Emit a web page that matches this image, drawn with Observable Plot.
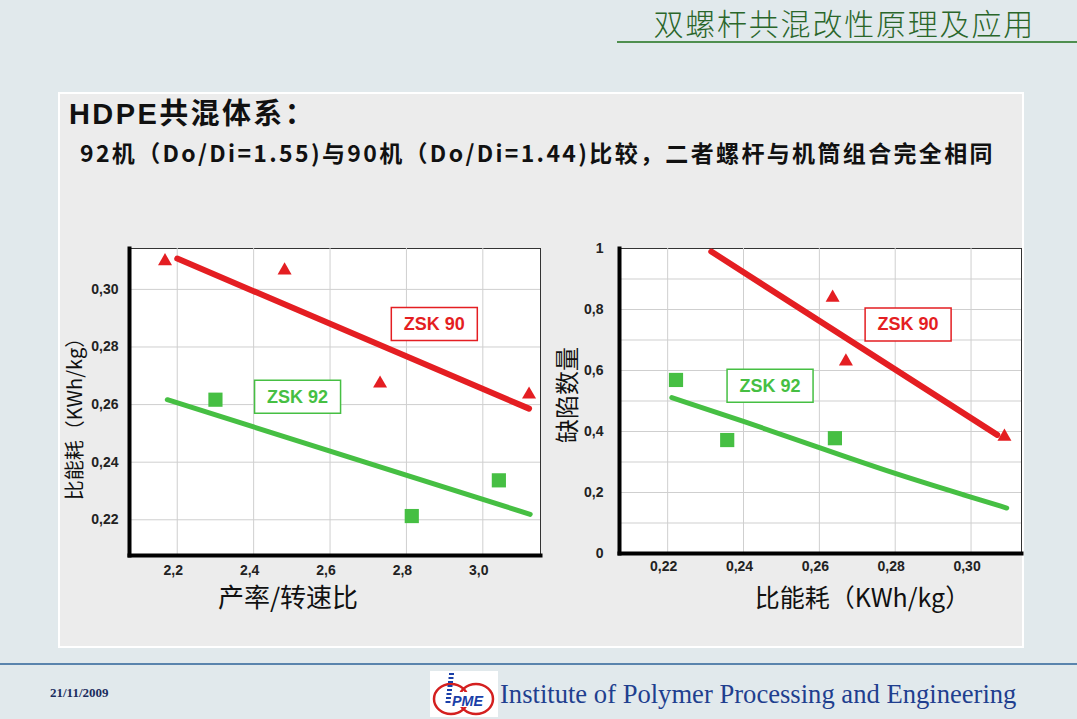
<!DOCTYPE html>
<html>
<head>
<meta charset="utf-8">
<script src="https://cdn.jsdelivr.net/npm/d3@7"></script>
<script src="https://cdn.jsdelivr.net/npm/@observablehq/plot@0.6"></script>
<style>
  html, body { margin: 0; padding: 0; }
  body { width: 1077px; height: 719px; background: #e1e9ec; position: relative; overflow: hidden;
         font-family: "Noto Sans CJK SC", "Liberation Sans", sans-serif; }
  .abs { position: absolute; }
  #slideTitle { right: 42px; top: 6px; font-size: 30px; line-height: 32px; color: #2a662a; font-weight: 300; letter-spacing: 1.8px; white-space: nowrap; }
  #titleRule { left: 617px; top: 41px; width: 460px; height: 2px; background: #4f8f4f; }
  #panel { left: 58px; top: 92px; width: 962px; height: 552px; background: #ececec; border: 2px solid #ffffff; }
  #h1 { left: 69px; top: 99.5px; font-family: "Liberation Sans", "Noto Sans CJK SC", sans-serif; font-size: 29px; line-height: 29px; font-weight: bold; color: #111; white-space: nowrap; letter-spacing: 2.4px; }
  #h2 { left: 80px; top: 141px; font-size: 23px; line-height: 23px; font-weight: bold; color: #111; white-space: nowrap; letter-spacing: 2.35px; }
  #footRule { left: 0; top: 663px; width: 1077px; height: 2px; background: #5a84ad; }
  #date { left: 50px; top: 685px; font-family: "Liberation Serif", serif; font-weight: bold; font-size: 13px; color: #1c2d5e; }
  #inst { left: 500px; top: 678px; font-family: "Liberation Serif", serif; font-size: 28px; color: #1f3f8f; white-space: nowrap;
          transform: scaleX(0.95); transform-origin: left center; }
  #logo { left: 430px; top: 671px; }
  svg.chart { position: absolute; overflow: visible; }
</style>
</head>
<body>
<div id="panel" class="abs"></div>
<div id="slideTitle" class="abs">双螺杆共混改性原理及应用</div>
<div id="titleRule" class="abs"></div>
<div id="h1" class="abs">HDPE共混体系：</div>
<div id="h2" class="abs">92机（Do/Di=1.55)与90机（Do/Di=1.44)比较，二者螺杆与机筒组合完全相同</div>
<div id="footRule" class="abs"></div>
<div id="date" class="abs">21/11/2009</div>
<svg id="logo" class="abs" width="68" height="46" viewBox="0 0 68 46">
  <rect x="0" y="0" width="68" height="46" fill="#ffffff"/>
  <ellipse cx="21" cy="28" rx="17" ry="15" fill="none" stroke="#d42020" stroke-width="2.5"/>
  <ellipse cx="46" cy="28" rx="17" ry="15" fill="none" stroke="#d42020" stroke-width="2.5"/>
  <rect x="13" y="21" width="42" height="15" fill="#ffffff"/>
  <g stroke="#1a3fa8" stroke-width="2">
    <line x1="19" y1="3" x2="24" y2="3"/><line x1="18.5" y1="7" x2="23.5" y2="7"/>
    <line x1="18" y1="11" x2="23" y2="11"/><line x1="17.5" y1="15" x2="22.5" y2="15"/>
    <line x1="17" y1="19" x2="22" y2="19"/><line x1="16.5" y1="23" x2="21.5" y2="23"/>
    <line x1="16" y1="27" x2="21" y2="27"/><line x1="15.5" y1="31" x2="20.5" y2="31"/>
  </g>
  <text x="22" y="35" font-family="Liberation Sans" font-style="italic" font-weight="bold" font-size="14" fill="#1a3fa8" textLength="31" lengthAdjust="spacingAndGlyphs">PME</text>
</svg>
<div id="inst" class="abs">Institute of Polymer Processing and Engineering</div>
<div id="left"></div>
<div id="right"></div>
<script>
// ---------- Left chart: 产率/转速比 vs 比能耗 ----------
const zsk90Ratio = [2.168, 2.481, 2.731, 3.121];
const zsk90Energy = [0.3098, 0.3066, 0.2673, 0.2635];
const zsk92Ratio = [2.300, 2.814, 3.042];
const zsk92Energy = [0.2617, 0.2213, 0.2337];
const zsk90FitRatio = [2.2, 3.121];
const zsk90FitEnergy = [0.3107, 0.2586];
const zsk92FitRatio = [2.174, 3.124];
const zsk92FitEnergy = [0.2617, 0.2219];
const leftXTicks = [2.2, 2.4, 2.6, 2.8, 3.0];
const leftYTicks = [0.22, 0.24, 0.26, 0.28, 0.30];
const leftLabelNames = ["ZSK 90", "ZSK 92"];
const leftLabelX = [2.873, 2.515];
const leftLabelY = [0.288, 0.2627];

// ---------- Right chart: 比能耗 vs 缺陷数量 ----------
const zsk90EnergyR = [0.2635, 0.267, 0.3088];
const zsk90Defects = [0.839, 0.630, 0.383];
const zsk92EnergyR = [0.2222, 0.2357, 0.2641];
const zsk92Defects = [0.569, 0.372, 0.378];
const zsk90FitEnergyR = [0.2315, 0.3069];
const zsk90FitDefects = [0.990, 0.389];
const zsk92FitEnergyR = [0.2211, 0.24, 0.26, 0.28, 0.30, 0.3094];
const zsk92FitDefects = [0.511, 0.434, 0.347, 0.261, 0.185, 0.149];
const rightXTicks = [0.22, 0.24, 0.26, 0.28, 0.30];
const rightYTicks = [0, 0.2, 0.4, 0.6, 0.8, 1];
const rightYGrid = [0.1, 0.2, 0.3, 0.4, 0.5, 0.6, 0.7, 0.8, 0.9];
const rightLabelNames = ["ZSK 90", "ZSK 92"];
const rightLabelX = [0.2834, 0.247];
const rightLabelY = [0.751, 0.55];

const RED = "#e41e22";
const GREEN = "#46bf43";
const seriesColors = [RED, GREEN];
const comma = f => d => d3.format(f)(d).replace(".", ",");
const rows = (xs, ys) => xs.map((x, i) => ({x, y: ys[i]}));
const labelRows = (names, xs, ys) => names.map((n, i) => ({name: n, x: xs[i], y: ys[i], c: seriesColors[i]}));
const boxSymbol = {draw(ctx) { ctx.rect(-43, -16.5, 86, 33); }};
const tickFont = {fontSize: 14, fontWeight: "bold", fill: "#222"};

function frameMarks() {
  return [Plot.frame({fill: "white", stroke: "#333", strokeWidth: 1})];
}
function thickAxes() {
  return [
    Plot.frame({anchor: "left", stroke: "#000", strokeWidth: 4}),
    Plot.frame({anchor: "bottom", stroke: "#000", strokeWidth: 4})
  ];
}

const left = Plot.plot({
  width: 560, height: 430,
  marginLeft: 129, marginRight: 20, marginTop: 48, marginBottom: 75,
  style: {background: "transparent", fontFamily: "Liberation Sans, Arial, sans-serif"},
  x: {domain: [2.075, 3.151]},
  y: {domain: [0.2076, 0.3142]},
  marks: [
    ...frameMarks(),
    Plot.gridX(leftXTicks, {stroke: "#cfcfcf", strokeOpacity: 1}),
    Plot.gridY(leftYTicks, {stroke: "#cfcfcf", strokeOpacity: 1}),
    Plot.axisX(leftXTicks, {tickSize: 0, tickPadding: 10, dx: -4, tickFormat: comma(".1f"), label: null, ...tickFont}),
    Plot.axisY(leftYTicks, {tickSize: 0, tickPadding: 11, tickFormat: comma(".2f"), label: null, ...tickFont}),
    Plot.line(rows(zsk90FitRatio, zsk90FitEnergy), {x: "x", y: "y", stroke: RED, strokeWidth: 6}),
    Plot.line(rows(zsk92FitRatio, zsk92FitEnergy), {x: "x", y: "y", stroke: GREEN, strokeWidth: 5}),
    Plot.dot(rows(zsk90Ratio, zsk90Energy), {x: "x", y: "y", symbol: "triangle", r: 5.2, fill: RED}),
    Plot.dot(rows(zsk92Ratio, zsk92Energy), {x: "x", y: "y", symbol: "square", r: 8, fill: GREEN}),
    Plot.dot(labelRows(leftLabelNames, leftLabelX, leftLabelY), {x: "x", y: "y", symbol: boxSymbol, fill: "white", stroke: d => d.c, strokeWidth: 1.5}),
    Plot.text(labelRows(leftLabelNames, leftLabelX, leftLabelY), {x: "x", y: "y", text: "name", fill: d => d.c, fontSize: 18, fontWeight: "bold"}),
    ...thickAxes(),
    Plot.text(["产率/转速比"], {frameAnchor: "bottom", dx: -47, dy: 43, lineAnchor: "middle", fontSize: 26, fill: "#111", fontFamily: "Noto Sans CJK SC"}),
    Plot.text(["比能耗（KWh/kg）"], {frameAnchor: "left", rotate: -90, dx: -54, dy: 12, lineAnchor: "middle", textAnchor: "middle", fontSize: 20, fill: "#111", fontFamily: "Noto Sans CJK SC"})
  ]
});
left.classList.add("chart");
left.style.left = "0px"; left.style.top = "200px";
document.getElementById("left").append(left);

const right = Plot.plot({
  width: 537, height: 430,
  marginLeft: 79, marginRight: 56, marginTop: 48, marginBottom: 77,
  style: {background: "transparent", fontFamily: "Liberation Sans, Arial, sans-serif"},
  x: {domain: [0.2073, 0.3133]},
  y: {domain: [0, 1]},
  marks: [
    ...frameMarks(),
    Plot.gridX(rightXTicks, {stroke: "#cfcfcf", strokeOpacity: 1}),
    Plot.gridY(rightYGrid, {stroke: "#cfcfcf", strokeOpacity: 1}),
    Plot.axisX(rightXTicks, {tickSize: 0, tickPadding: 8, dx: -4, tickFormat: comma(".2f"), label: null, ...tickFont}),
    Plot.axisY(rightYTicks, {tickSize: 0, tickPadding: 16, tickFormat: d => (d === 0 || d === 1) ? String(d) : comma(".1f")(d), label: null, ...tickFont}),
    Plot.line(rows(zsk90FitEnergyR, zsk90FitDefects), {x: "x", y: "y", stroke: RED, strokeWidth: 6}),
    Plot.line(rows(zsk92FitEnergyR, zsk92FitDefects), {x: "x", y: "y", stroke: GREEN, strokeWidth: 5, curve: "basis"}),
    Plot.dot(rows(zsk90EnergyR, zsk90Defects), {x: "x", y: "y", symbol: "triangle", r: 5.2, fill: RED}),
    Plot.dot(rows(zsk92EnergyR, zsk92Defects), {x: "x", y: "y", symbol: "square", r: 8, fill: GREEN}),
    Plot.dot(labelRows(rightLabelNames, rightLabelX, rightLabelY), {x: "x", y: "y", symbol: boxSymbol, fill: "white", stroke: d => d.c, strokeWidth: 1.5}),
    Plot.text(labelRows(rightLabelNames, rightLabelX, rightLabelY), {x: "x", y: "y", text: "name", fill: d => d.c, fontSize: 18, fontWeight: "bold"}),
    ...thickAxes(),
    Plot.text(["比能耗（KWh/kg）"], {frameAnchor: "bottom", dx: 42, dy: 45, lineAnchor: "middle", fontSize: 25, fill: "#111", fontFamily: "Noto Sans CJK SC"}),
    Plot.text(["缺陷数量"], {frameAnchor: "left", rotate: -90, dx: -51, dy: -6, lineAnchor: "middle", textAnchor: "middle", fontSize: 24, fill: "#111", fontFamily: "Noto Sans CJK SC"})
  ]
});
right.classList.add("chart");
right.style.left = "540px"; right.style.top = "200px";
document.getElementById("right").append(right);
</script>
</body>
</html>
